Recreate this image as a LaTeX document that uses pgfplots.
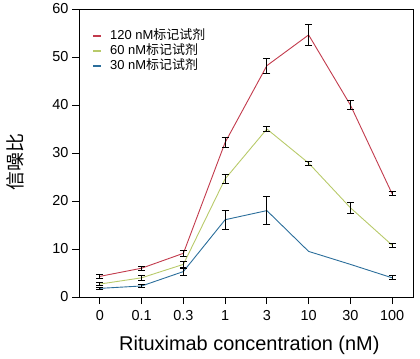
\documentclass[border=0pt]{standalone}
\usepackage{fontspec}
\setmainfont{Liberation Sans}
\newfontfamily\cjk{Noto Sans CJK SC}
\usepackage{pgfplots}
\pgfplotsset{compat=1.18}
\definecolor{cred}{RGB}{194,58,76}
\definecolor{cgreen}{RGB}{184,202,106}
\definecolor{cblue}{RGB}{43,110,155}
\begin{document}
\begin{tikzpicture}
\begin{axis}[
  scale only axis,
  width=334bp, height=288bp,
  xmin=-0.5, xmax=7.5, ymin=0, ymax=60,
  xtick={0,1,2,3,4,5,6,7},
  xticklabels={0,0.1,0.3,1,3,10,30,100},
  ytick={0,10,20,30,40,50,60},
  xtick pos=bottom, ytick pos=left,
  tick align=outside,
  major tick length=7bp,
  tick style={black, line width=0.9pt},
  axis line style={line width=0.9pt},
  /pgf/number format/assume math mode=true,
  ticklabel style={font=\fontsize{14.5}{16}\selectfont},
  xticklabel style={yshift=-3bp},
  ylabel={{\cjk 信噪比}},
  ylabel style={at={(axis description cs:-0.192,0.47)}, anchor=center, font=\fontsize{19}{22}\selectfont},
  xlabel={Rituximab concentration (nM)},
  xlabel style={at={(axis description cs:0.51,-0.167)}, anchor=center, font=\fontsize{20}{24}\selectfont},
  legend style={draw=none, fill=none, at={(axis description cs:0.03,0.94)}, anchor=north west,
    font=\fontsize{13}{15}\selectfont, nodes={inner sep=1.5pt, text height=9.5pt, text depth=2.5pt}, row sep=0pt},
  legend cell align=left,
  legend image code/.code={\draw[line width=2.2pt] (0bp,0bp) -- (8bp,0bp); \path (15bp,0bp);},
  every axis plot/.append style={line width=0.9pt, mark=none},
  error bars/error bar style={black, line width=0.8pt},
  error bars/error mark options={black, rotate=90, mark size=3.5bp, line width=0.8pt},
]
\addplot[cred, error bars/.cd, y dir=both, y explicit] coordinates {
  (0,4.3) +- (0,0.4)
  (1,6.0) +- (0,0.45)
  (2,9.1) +- (0,0.55)
  (3,32.2) +- (0,1.0)
  (4,48.2) +- (0,1.6)
  (5,54.6) +- (0,2.2)
  (6,40.0) +- (0,1.0)
  (7,21.5) +- (0,0.4)
};
\addlegendentry{120 nM{\cjk 标记试剂}}
\addplot[cgreen, error bars/.cd, y dir=both, y explicit] coordinates {
  (0,2.7) +- (0,0.35)
  (1,4.0) +- (0,0.5)
  (2,6.8) +- (0,0.6)
  (3,24.6) +- (0,1.0)
  (4,35.0) +- (0,0.5)
  (5,27.9) +- (0,0.4)
  (6,18.6) +- (0,1.2)
  (7,10.8) +- (0,0.4)
};
\addlegendentry{60 nM{\cjk 标记试剂}}
\addplot[cblue] coordinates {
  (0,1.8) (1,2.3) (2,5.3) (3,16.1) (4,18.0) (5,9.5) (6,6.8) (7,4.0)
};
\addlegendentry{30 nM{\cjk 标记试剂}}
\addplot[draw=none, forget plot, error bars/.cd, y dir=both, y explicit] coordinates {
  (0,1.8) +- (0,0.3)
  (1,2.3) +- (0,0.4)
  (2,5.3) +- (0,0.7)
  (3,16.1) +- (0,2.0)
  (4,18.0) +- (0,2.9)
  (7,4.0) +- (0,0.4)
};
\end{axis}
\path ([shift={(-79bp,-61bp)}]current axis.south west) rectangle ([shift={(7bp,9bp)}]current axis.north east);
\end{tikzpicture}
\end{document}
